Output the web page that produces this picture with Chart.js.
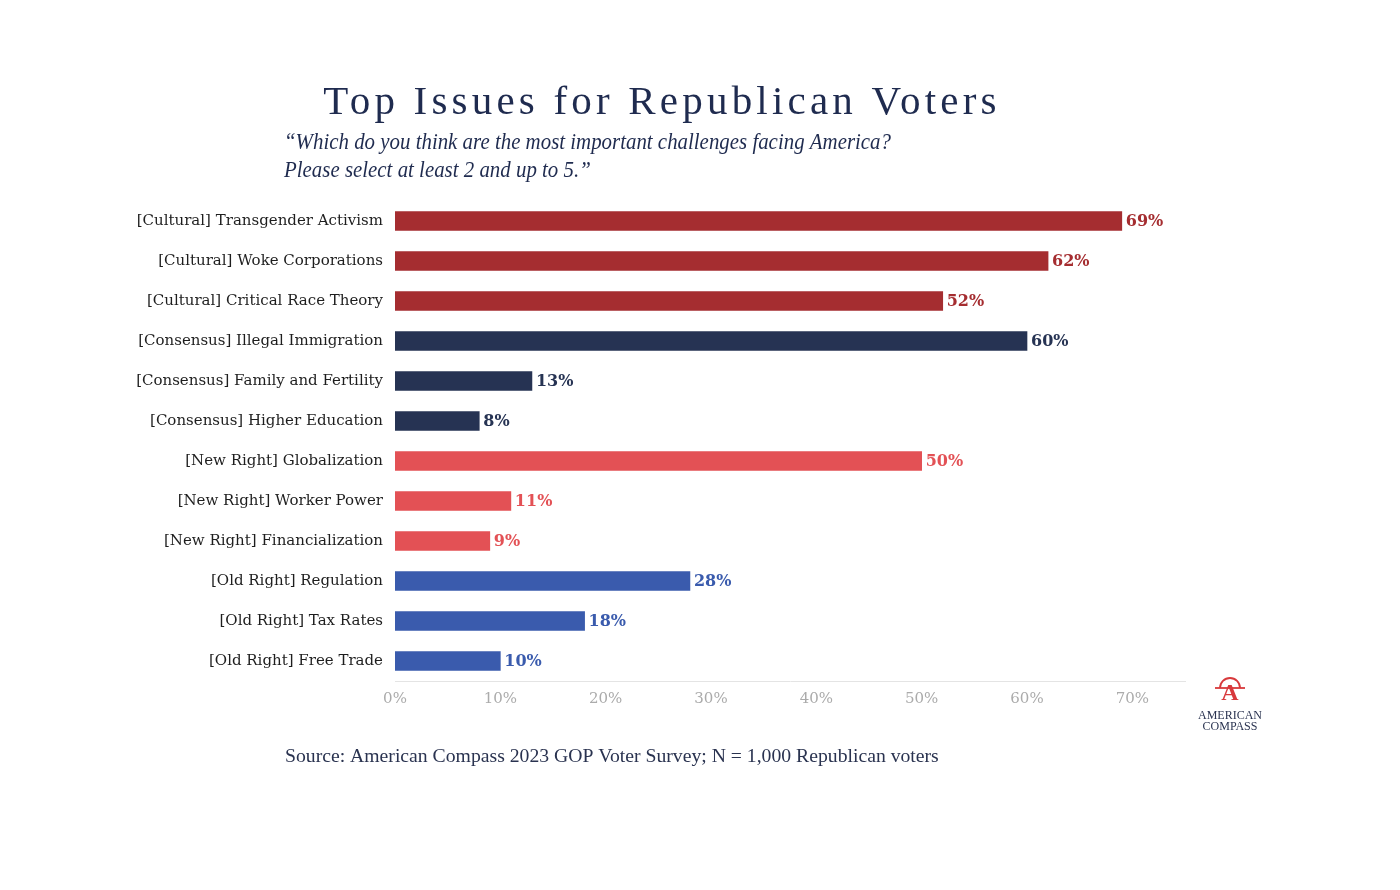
<!DOCTYPE html>
<html>
<head>
<meta charset="utf-8">
<title>Top Issues for Republican Voters</title>
<script src="https://cdn.jsdelivr.net/npm/chart.js@4"></script>
<style>
  html, body { margin: 0; padding: 0; background: #fff; }
  #wrap { width: 1400px; height: 890px; }
</style>
</head>
<body>
<div id="wrap"><canvas id="issuesChart" width="1400" height="890"></canvas></div>
<script>
// data
const categories = [
    '[Cultural] Transgender Activism',
    '[Cultural] Woke Corporations',
    '[Cultural] Critical Race Theory',
    '[Consensus] Illegal Immigration',
    '[Consensus] Family and Fertility',
    '[Consensus] Higher Education',
    '[New Right] Globalization',
    '[New Right] Worker Power',
    '[New Right] Financialization',
    '[Old Right] Regulation',
    '[Old Right] Tax Rates',
    '[Old Right] Free Trade'
];
const values = [69, 62, 52, 60, 13, 8, 50, 11, 9, 28, 18, 10];
const groups = ['Cultural', 'Cultural', 'Cultural', 'Consensus', 'Consensus', 'Consensus',
    'New Right', 'New Right', 'New Right', 'Old Right', 'Old Right', 'Old Right'];
const xTicks = [0, 10, 20, 30, 40, 50, 60, 70];

const groupColors = {
    'Cultural': '#A52D30',
    'Consensus': '#263353',
    'New Right': '#E35155',
    'Old Right': '#3A5BAD'
};
const barColors = groups.map(g => groupColors[g]);

const NAVY = '#1F2B4F';
const SERIF = '"Liberation Serif", serif';
const LABEL_FONT = '"DejaVu Serif", serif';

// value labels at the end of each bar
const valueLabels = {
    id: 'valueLabels',
    afterDatasetsDraw(chart) {
        const ctx = chart.ctx;
        const meta = chart.getDatasetMeta(0);
        ctx.save();
        ctx.font = 'bold 16px ' + LABEL_FONT;
        ctx.textBaseline = 'middle';
        ctx.textAlign = 'left';
        meta.data.forEach((bar, i) => {
            ctx.fillStyle = barColors[i];
            ctx.fillText(values[i] + '%', bar.x + 4, bar.y + 1);
        });
        ctx.restore();
    }
};

// title, question, source and logo
const decorations = {
    id: 'decorations',
    afterDraw(chart) {
        const ctx = chart.ctx;
        ctx.save();
        ctx.fillStyle = NAVY;
        ctx.textBaseline = 'alphabetic';

        ctx.font = '41px ' + SERIF;
        ctx.letterSpacing = '4.2px';
        ctx.textAlign = 'center';
        ctx.fillText('Top Issues for Republican Voters', 662, 114);
        ctx.letterSpacing = '0px';

        ctx.font = 'italic 24px ' + SERIF;
        ctx.textAlign = 'left';
        ctx.save();
        ctx.translate(284, 0);
        ctx.scale(0.87, 1);
        ctx.fillText('\u201CWhich do you think are the most important challenges facing America?', 0, 149);
        ctx.fillText('Please select at least 2 and up to 5.\u201D', 0, 177);
        ctx.restore();

        ctx.font = '19.7px ' + SERIF;
        ctx.fillStyle = '#2A3350';
        ctx.fillText('Source: American Compass 2023 GOP Voter Survey; N = 1,000 Republican voters', 285, 762);

        // logo
        const cx = 1230, cy = 688;
        ctx.strokeStyle = '#D8393C';
        ctx.fillStyle = '#D8393C';
        ctx.lineWidth = 1.8;
        ctx.beginPath();
        ctx.arc(cx, cy, 10, Math.PI * 1.0, Math.PI * 2.0);
        ctx.stroke();
        ctx.beginPath();
        ctx.moveTo(cx - 15, cy);
        ctx.lineTo(cx + 15, cy);
        ctx.stroke();
        ctx.font = 'bold 24px ' + SERIF;
        ctx.textAlign = 'center';
        ctx.fillText('A', cx, cy + 12);
        ctx.fillStyle = '#2A3350';
        ctx.font = '12px ' + SERIF;
        ctx.fillText('AMERICAN', cx, 719);
        ctx.fillText('COMPASS', cx, 730);
        ctx.restore();
    }
};

const ctx = document.getElementById('issuesChart').getContext('2d');
const issuesChart = new Chart(ctx, {
    type: 'bar',
    data: {
        labels: categories,
        datasets: [{
            data: values,
            backgroundColor: barColors,
            borderWidth: 0,
            barThickness: 19
        }]
    },
    options: {
        indexAxis: 'y',
        responsive: false,
        animation: false,
        devicePixelRatio: 1,
        layout: {
            padding: { top: 201, right: 215, bottom: 169, left: 0 }
        },
        scales: {
            x: {
                min: 0,
                max: 75,
                afterBuildTicks: function (scale) {
                    scale.ticks = xTicks.map(v => ({ value: v }));
                },
                afterFit: function (scale) {
                    scale.height = 40;
                },
                grid: { display: false, drawTicks: false },
                border: { display: true, color: '#E4E4E4', width: 1 },
                ticks: {
                    padding: 9,
                    color: '#ABABAB',
                    font: { family: LABEL_FONT, size: 15 },
                    callback: function (v) {
                        return v + '%';
                    }
                }
            },
            y: {
                afterFit: function (scale) {
                    scale.width = 395;
                },
                grid: { display: false, drawTicks: false },
                border: { display: false },
                ticks: {
                    padding: 12,
                    color: '#1E1E1E',
                    font: { family: LABEL_FONT, size: 15 }
                }
            }
        },
        plugins: {
            legend: { display: false },
            tooltip: { enabled: false }
        }
    },
    plugins: [valueLabels, decorations]
});
</script>
</body>
</html>
